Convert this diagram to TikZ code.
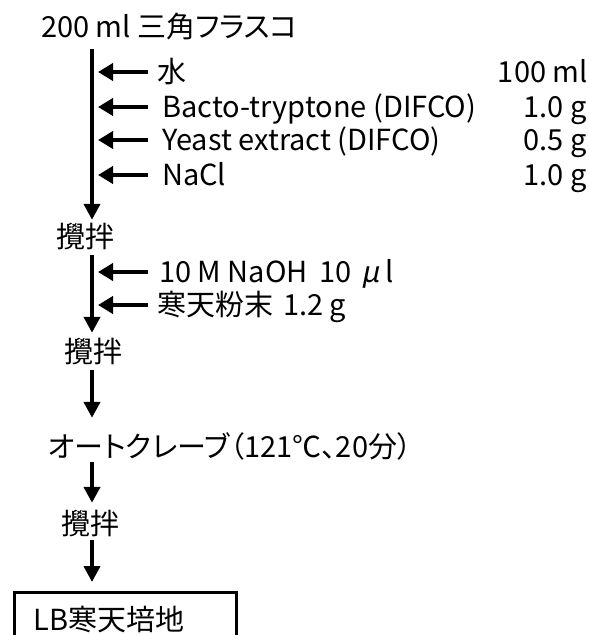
\documentclass[tikz,border=0pt]{standalone}
\usepackage{fontspec}
\setmainfont[RawFeature=+palt]{Noto Sans CJK JP}
\newfontfamily\slantjp[FakeSlant=0.2]{Noto Sans CJK JP}
\usetikzlibrary{arrows.meta,positioning}

\begin{document}
\begin{tikzpicture}[x=1pt,y=-1pt,
  txt/.style={inner sep=0pt,anchor=west,text height=25pt,text depth=4pt,font=\fontsize{29}{34}\selectfont},
  amt/.style={txt,anchor=east},
  down/.style={-{Triangle[length=16pt,width=16pt]},line width=4pt},
  side/.style={-{Triangle[length=15pt,width=17pt]},line width=4pt}]
  \useasboundingbox (0,0) rectangle (589,635);
  \coordinate (trunk) at (92,0);
  \coordinate (tip) at (98,0);
  \coordinate (tail) at (148,0);
  % start and additions
  \node[txt] (flask) at (41,27) {200 ml 三角フラスコ};
  \node[txt] (water) at (157,72) {水};
  \node[txt] (tryp) at (162,107) {Bacto-tryptone (DIFCO)};
  \node[txt] (yeast) at (162,140) {Yeast extract (DIFCO)};
  \node[txt] (nacl) at (162,175) {NaCl};
  \node[amt] (vwater) at (588,72) {100 ml};
  \node[amt] (vtryp) at (587,107) {1.0 g};
  \node[amt] (vyeast) at (587,140) {0.5 g};
  \node[amt] (vnacl) at (587,175) {1.0 g};
  \node[txt] (stir1) at (56,237) {攪拌};
  \node[txt] (naoh) at (159,272) {10 M NaOH\hspace{12pt}10\hspace{9pt}{\slantjp μ}\hspace{6pt}l};
  \node[txt] (agar) at (157,305) {寒天粉末\hspace{10pt}1.2 g};
  \node[txt] (stir2) at (64,352) {攪拌};
  \node[txt] (auto) at (48,447) {オートクレーブ（121℃、20分）};
  \node[txt] (stir3) at (61,524) {攪拌};
  % result
  \node[draw,line width=3pt,anchor=north west,minimum width=222pt,minimum height=54pt,
    text width=183pt,inner xsep=19.5pt,align=left,text height=25pt,text depth=4pt,
    font=\fontsize{29}{34}\selectfont] (lb) at (13,591) {LB寒天培地};
  % main flow
  \draw[down,shorten <=7.5pt,shorten >=2.5pt] (flask.south -| trunk) -- (stir1.north -| trunk);
  \draw[down,shorten <=3.5pt,shorten >=4.5pt] (stir1.south -| trunk) -- (stir2.north -| trunk);
  \draw[down,shorten <=3.5pt,shorten >=14.5pt] (stir2.south -| trunk) -- (auto.north -| trunk);
  \draw[down,shorten <=0.5pt,shorten >=6.5pt] (auto.south -| trunk) -- (stir3.north -| trunk);
  \draw[down,shorten <=1.5pt,shorten >=9pt] (stir3.south -| trunk) -- (lb.north -| trunk);
  % additions
  \foreach \n in {water,tryp,yeast,nacl,naoh,agar}
    \draw[side] (\n.west -| tail) -- (\n.west -| tip);
\end{tikzpicture}
\end{document}
